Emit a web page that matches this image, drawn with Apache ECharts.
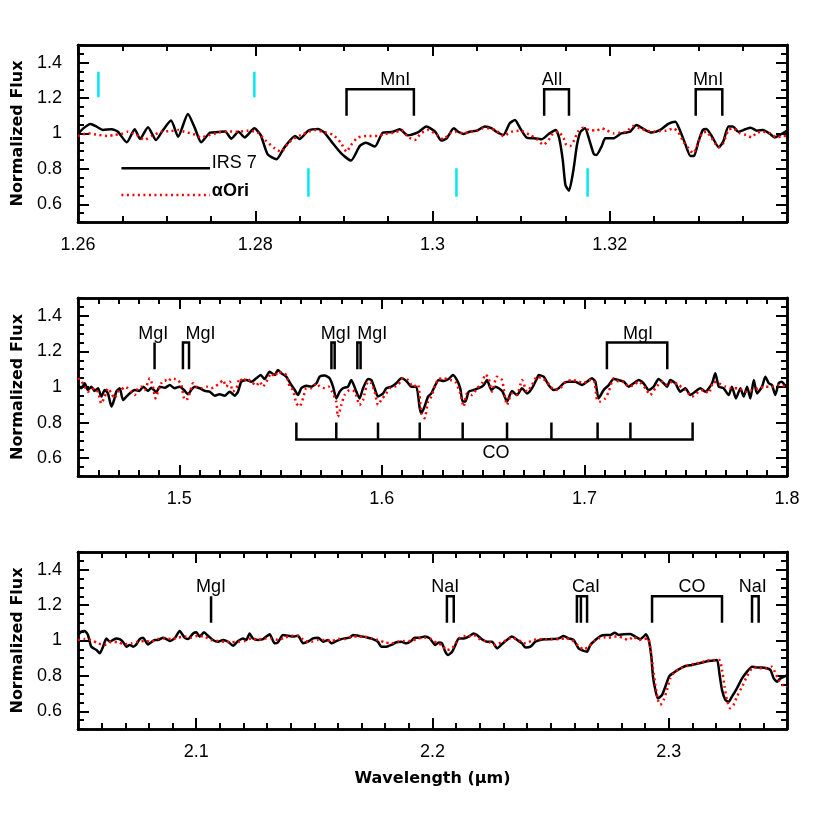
<!DOCTYPE html>
<html><head><meta charset="utf-8">
<script src="https://cdn.jsdelivr.net/npm/echarts@6/dist/echarts.min.js"></script>
<style>html,body{margin:0;padding:0;background:#fff}#c{width:830px;height:830px}</style>
</head><body><div id="c"></div>
<script>
// ---------- DATA ----------
// Panel 1 (J band)
const irsJ = [[1.2600,0.997],[1.2606,1.029],[1.2614,1.054],[1.2621,1.039],[1.2628,1.020],[1.2638,1.024],[1.2645,1.010],[1.2655,0.950],[1.2664,1.024],[1.2670,0.969],[1.2679,1.035],[1.2688,0.963],[1.2696,1.020],[1.2705,1.073],[1.2713,0.982],[1.2724,1.110],[1.2732,1.029],[1.2739,0.950],[1.2749,1.005],[1.2758,1.008],[1.2766,1.012],[1.2773,0.971],[1.2781,1.010],[1.2788,0.978],[1.2799,1.029],[1.2806,0.992],[1.2814,0.882],[1.2824,0.854],[1.2833,0.922],[1.2845,0.986],[1.2850,0.969],[1.2860,1.016],[1.2871,1.025],[1.2878,1.005],[1.2886,0.954],[1.2897,0.888],[1.2908,0.847],[1.2918,0.930],[1.2925,0.948],[1.2935,0.926],[1.2944,1.005],[1.2954,1.008],[1.2963,1.024],[1.2972,0.990],[1.2984,1.008],[1.2993,1.039],[1.3003,1.010],[1.3010,0.960],[1.3016,0.973],[1.3024,1.029],[1.3029,1.010],[1.3035,0.997],[1.3042,1.010],[1.3050,1.016],[1.3059,1.039],[1.3067,1.029],[1.3072,1.010],[1.3080,0.992],[1.3087,1.057],[1.3093,1.076],[1.3099,1.029],[1.3106,0.978],[1.3114,0.973],[1.3123,0.967],[1.3131,0.997],[1.3139,1.020],[1.3143,0.973],[1.3147,0.850],[1.3150,0.709],[1.3154,0.677],[1.3159,0.794],[1.3163,0.935],[1.3167,1.010],[1.3172,1.029],[1.3177,0.963],[1.3182,0.884],[1.3185,0.879],[1.3191,0.929],[1.3195,0.973],[1.3204,0.973],[1.3213,1.001],[1.3223,1.010],[1.3230,1.048],[1.3240,1.020],[1.3247,1.005],[1.3257,1.020],[1.3266,1.054],[1.3274,1.067],[1.3279,1.020],[1.3285,0.944],[1.3291,0.873],[1.3295,0.873],[1.3300,0.954],[1.3305,1.020],[1.3309,1.025],[1.3315,0.986],[1.3323,0.922],[1.3328,0.954],[1.3334,1.039],[1.3339,1.039],[1.3345,1.010],[1.3353,1.024],[1.3359,1.033],[1.3366,1.016],[1.3373,1.020],[1.3381,0.997],[1.3386,0.978],[1.3392,0.992],[1.3398,1.010],[1.3400,1.016]];
const oriJ = [[1.2600,0.986],[1.2611,1.001],[1.2623,0.992],[1.2634,0.986],[1.2641,0.992],[1.2649,0.997],[1.2656,1.010],[1.2666,0.992],[1.2675,0.963],[1.2683,0.986],[1.2694,1.010],[1.2705,1.014],[1.2713,1.020],[1.2720,1.010],[1.2730,0.997],[1.2739,0.978],[1.2749,0.992],[1.2758,1.005],[1.2769,1.012],[1.2781,1.010],[1.2792,1.016],[1.2803,1.005],[1.2811,0.963],[1.2822,0.916],[1.2829,0.897],[1.2837,0.944],[1.2844,0.973],[1.2852,0.992],[1.2860,1.010],[1.2867,1.020],[1.2876,1.010],[1.2888,0.992],[1.2897,0.944],[1.2903,0.897],[1.2908,0.935],[1.2916,0.978],[1.2927,0.986],[1.2938,0.986],[1.2946,0.997],[1.2957,1.005],[1.2965,1.020],[1.2972,0.982],[1.2980,0.963],[1.2987,1.001],[1.2995,1.020],[1.3005,0.992],[1.3012,0.967],[1.3020,1.001],[1.3027,1.010],[1.3035,1.001],[1.3042,1.010],[1.3050,1.016],[1.3057,1.029],[1.3065,1.029],[1.3072,1.016],[1.3080,0.986],[1.3089,1.010],[1.3099,1.016],[1.3110,0.992],[1.3118,0.967],[1.3125,0.935],[1.3131,0.963],[1.3136,1.001],[1.3142,1.010],[1.3148,0.973],[1.3151,0.935],[1.3155,0.929],[1.3160,0.963],[1.3164,1.010],[1.3170,1.033],[1.3177,1.020],[1.3185,1.016],[1.3191,1.029],[1.3196,1.020],[1.3204,1.001],[1.3211,1.005],[1.3219,1.010],[1.3226,1.042],[1.3234,1.029],[1.3242,1.016],[1.3249,1.010],[1.3257,1.014],[1.3264,1.016],[1.3272,1.029],[1.3277,1.010],[1.3283,0.954],[1.3289,0.916],[1.3294,0.888],[1.3298,0.922],[1.3304,1.001],[1.3309,1.010],[1.3315,0.973],[1.3323,0.922],[1.3328,0.944],[1.3334,1.020],[1.3339,1.029],[1.3347,1.001],[1.3354,0.992],[1.3360,0.978],[1.3366,1.005],[1.3373,1.010],[1.3381,1.001],[1.3388,0.978],[1.3396,0.986],[1.3400,0.986]];

// Panel 2 (H band)
const irsH = [[1.4500,1.011],[1.4516,0.993],[1.4533,1.021],[1.4549,0.983],[1.4566,1.002],[1.4582,0.978],[1.4599,0.993],[1.4615,0.946],[1.4632,0.983],[1.4648,0.964],[1.4665,0.890],[1.4678,0.927],[1.4689,0.974],[1.4706,0.993],[1.4722,0.927],[1.4739,0.946],[1.4755,0.964],[1.4780,0.983],[1.4804,0.978],[1.4821,1.002],[1.4846,0.978],[1.4862,0.996],[1.4887,0.970],[1.4903,1.002],[1.4928,0.996],[1.4953,1.011],[1.4977,0.993],[1.5002,1.002],[1.5023,0.983],[1.5043,0.959],[1.5059,0.983],[1.5076,1.002],[1.5101,0.993],[1.5125,0.978],[1.5150,0.974],[1.5175,0.951],[1.5199,0.959],[1.5224,0.951],[1.5249,0.974],[1.5273,0.951],[1.5290,0.974],[1.5306,1.030],[1.5331,1.039],[1.5356,1.030],[1.5380,1.049],[1.5402,1.067],[1.5421,1.045],[1.5446,1.086],[1.5471,1.067],[1.5487,1.096],[1.5504,1.077],[1.5528,1.058],[1.5553,1.011],[1.5570,0.983],[1.5586,0.955],[1.5602,0.993],[1.5627,1.007],[1.5652,1.002],[1.5677,1.021],[1.5693,1.058],[1.5718,1.064],[1.5742,1.049],[1.5759,1.002],[1.5775,0.936],[1.5792,0.974],[1.5808,0.993],[1.5833,1.002],[1.5849,1.039],[1.5874,0.974],[1.5890,0.936],[1.5907,0.993],[1.5932,1.045],[1.5948,1.039],[1.5964,0.993],[1.5981,0.946],[1.6006,0.964],[1.6022,0.993],[1.6047,1.002],[1.6071,1.021],[1.6096,1.049],[1.6121,1.034],[1.6146,1.002],[1.6170,1.002],[1.6187,0.880],[1.6195,0.852],[1.6211,0.890],[1.6228,0.946],[1.6244,0.964],[1.6264,1.011],[1.6280,1.039],[1.6305,1.034],[1.6330,1.045],[1.6350,1.067],[1.6371,1.039],[1.6387,0.993],[1.6399,0.918],[1.6412,0.918],[1.6429,0.974],[1.6453,0.983],[1.6478,0.993],[1.6503,1.011],[1.6519,1.039],[1.6541,0.983],[1.6560,1.002],[1.6577,0.993],[1.6596,0.974],[1.6618,0.918],[1.6642,0.978],[1.6667,0.955],[1.6692,0.993],[1.6717,0.964],[1.6741,0.993],[1.6766,1.049],[1.6774,1.067],[1.6799,1.058],[1.6823,1.011],[1.6848,0.983],[1.6873,0.993],[1.6897,1.021],[1.6922,1.030],[1.6955,1.030],[1.6988,1.011],[1.7013,1.030],[1.7037,1.049],[1.7054,1.030],[1.7070,0.936],[1.7095,0.983],[1.7120,1.011],[1.7144,1.045],[1.7169,1.039],[1.7194,1.030],[1.7218,1.002],[1.7243,1.021],[1.7268,1.039],[1.7292,1.021],[1.7317,0.983],[1.7342,1.002],[1.7366,1.045],[1.7391,1.021],[1.7408,1.002],[1.7424,1.039],[1.7449,1.021],[1.7473,0.974],[1.7498,0.993],[1.7523,0.955],[1.7547,0.974],[1.7572,0.993],[1.7597,0.974],[1.7630,1.021],[1.7646,1.077],[1.7663,1.002],[1.7687,0.993],[1.7712,0.955],[1.7728,1.002],[1.7748,0.936],[1.7770,0.993],[1.7786,0.946],[1.7803,1.002],[1.7819,0.936],[1.7836,1.039],[1.7852,0.964],[1.7877,1.002],[1.7893,1.058],[1.7910,1.021],[1.7926,1.011],[1.7942,0.955],[1.7959,1.021],[1.7975,1.030],[1.7992,1.007],[1.8000,1.011]];
const oriH = [[1.4500,1.049],[1.4516,1.034],[1.4533,1.002],[1.4549,0.974],[1.4566,0.983],[1.4582,0.993],[1.4599,0.970],[1.4615,0.908],[1.4632,0.946],[1.4648,0.993],[1.4665,0.964],[1.4681,0.936],[1.4697,0.974],[1.4714,0.983],[1.4730,1.002],[1.4747,0.993],[1.4763,0.974],[1.4780,0.955],[1.4796,0.993],[1.4813,1.002],[1.4829,0.983],[1.4854,1.049],[1.4870,1.002],[1.4882,0.936],[1.4895,0.974],[1.4911,1.021],[1.4928,1.039],[1.4944,1.030],[1.4961,1.049],[1.4977,1.045],[1.4994,1.039],[1.5010,1.011],[1.5027,0.927],[1.5043,0.936],[1.5068,1.021],[1.5084,1.002],[1.5109,0.993],[1.5134,1.002],[1.5158,0.993],[1.5175,1.002],[1.5199,1.021],[1.5216,1.039],[1.5232,1.002],[1.5249,1.030],[1.5265,0.974],[1.5282,0.993],[1.5298,1.049],[1.5315,1.030],[1.5331,1.049],[1.5356,1.030],[1.5380,1.007],[1.5397,1.030],[1.5413,1.002],[1.5430,1.030],[1.5454,1.077],[1.5471,1.058],[1.5487,1.086],[1.5512,1.077],[1.5528,1.067],[1.5545,1.002],[1.5561,0.983],[1.5578,0.908],[1.5594,0.890],[1.5611,0.936],[1.5627,0.993],[1.5652,0.993],[1.5677,1.021],[1.5693,1.002],[1.5718,0.993],[1.5737,1.002],[1.5754,0.974],[1.5775,0.918],[1.5783,0.833],[1.5800,0.899],[1.5816,0.955],[1.5841,0.983],[1.5866,0.974],[1.5890,0.899],[1.5907,0.927],[1.5932,1.030],[1.5948,1.021],[1.5964,0.974],[1.5981,0.899],[1.5997,0.927],[1.6022,0.964],[1.6039,0.993],[1.6063,1.002],[1.6080,1.011],[1.6104,1.049],[1.6129,1.039],[1.6154,1.002],[1.6178,1.015],[1.6195,0.852],[1.6211,0.824],[1.6228,0.918],[1.6244,0.946],[1.6264,1.011],[1.6280,1.045],[1.6305,1.049],[1.6338,1.039],[1.6363,1.030],[1.6387,0.964],[1.6404,0.890],[1.6420,0.964],[1.6445,0.955],[1.6470,0.993],[1.6494,1.021],[1.6511,1.071],[1.6527,1.049],[1.6544,0.974],[1.6568,1.058],[1.6593,1.039],[1.6618,0.899],[1.6642,0.964],[1.6667,0.955],[1.6692,1.039],[1.6717,0.974],[1.6741,1.011],[1.6766,1.058],[1.6791,1.049],[1.6815,1.030],[1.6832,1.002],[1.6856,0.983],[1.6881,0.993],[1.6906,1.030],[1.6939,1.039],[1.6972,1.030],[1.6996,1.021],[1.7021,1.039],[1.7046,1.039],[1.7062,0.927],[1.7078,0.918],[1.7103,0.936],[1.7120,0.974],[1.7144,1.049],[1.7169,1.030],[1.7194,1.030],[1.7218,1.002],[1.7243,1.011],[1.7268,1.030],[1.7301,0.993],[1.7325,0.955],[1.7350,0.993],[1.7383,1.030],[1.7408,1.011],[1.7432,1.030],[1.7465,1.011],[1.7498,0.983],[1.7531,0.946],[1.7564,0.974],[1.7589,0.983],[1.7613,0.964],[1.7638,1.030],[1.7663,1.021],[1.7696,1.002],[1.7728,0.993],[1.7761,0.993],[1.7794,0.974],[1.7827,0.983],[1.7860,0.993],[1.7893,1.002],[1.7926,1.002],[1.7959,1.011],[1.8000,1.002]];

// Panel 3 (K band)
const irsK = [[2.0500,1.031],[2.0514,1.050],[2.0528,1.054],[2.0542,1.031],[2.0556,0.965],[2.0578,0.946],[2.0592,0.928],[2.0606,0.965],[2.0620,1.012],[2.0634,0.993],[2.0648,1.003],[2.0662,1.012],[2.0676,1.008],[2.0690,0.993],[2.0705,0.965],[2.0719,0.975],[2.0733,0.965],[2.0747,0.978],[2.0761,1.008],[2.0775,1.016],[2.0796,0.978],[2.0810,0.990],[2.0824,1.003],[2.0838,1.003],[2.0860,1.016],[2.0874,1.008],[2.0888,0.997],[2.0909,1.012],[2.0930,1.054],[2.0951,1.016],[2.0965,1.008],[2.0987,1.040],[2.1001,1.046],[2.1015,1.022],[2.1033,1.046],[2.1050,1.027],[2.1071,1.003],[2.1092,0.993],[2.1114,1.003],[2.1135,0.993],[2.1156,0.971],[2.1177,0.997],[2.1198,1.012],[2.1212,1.003],[2.1226,1.040],[2.1240,1.012],[2.1262,1.003],[2.1283,1.008],[2.1297,1.022],[2.1311,1.035],[2.1332,0.984],[2.1346,0.990],[2.1367,1.031],[2.1389,1.027],[2.1410,1.022],[2.1431,1.027],[2.1452,0.984],[2.1473,0.993],[2.1494,1.012],[2.1516,1.016],[2.1537,0.993],[2.1558,1.003],[2.1572,0.984],[2.1593,0.997],[2.1614,1.008],[2.1628,1.012],[2.1649,1.016],[2.1664,1.031],[2.1685,1.027],[2.1706,1.022],[2.1727,1.016],[2.1748,1.008],[2.1769,0.993],[2.1783,0.965],[2.1805,0.965],[2.1826,0.975],[2.1847,0.990],[2.1868,0.993],[2.1889,0.984],[2.1910,0.997],[2.1924,1.016],[2.1946,1.016],[2.1967,1.022],[2.1988,1.012],[2.2012,0.975],[2.2026,0.988],[2.2040,0.984],[2.2054,0.937],[2.2066,0.918],[2.2083,0.937],[2.2097,0.975],[2.2111,1.012],[2.2132,1.012],[2.2153,1.022],[2.2174,1.040],[2.2188,1.031],[2.2209,1.007],[2.2231,0.993],[2.2252,0.993],[2.2273,0.956],[2.2294,0.980],[2.2315,1.003],[2.2336,1.022],[2.2358,1.003],[2.2379,0.984],[2.2393,0.961],[2.2414,0.965],[2.2435,0.993],[2.2456,1.003],[2.2477,1.007],[2.2506,1.008],[2.2534,1.012],[2.2555,1.025],[2.2576,1.012],[2.2597,1.003],[2.2618,0.956],[2.2640,0.941],[2.2654,0.937],[2.2668,0.975],[2.2689,1.003],[2.2710,1.025],[2.2731,1.031],[2.2752,1.031],[2.2771,1.044],[2.2788,1.031],[2.2809,1.035],[2.2837,1.037],[2.2858,1.022],[2.2879,1.007],[2.2893,1.022],[2.2903,1.035],[2.2915,1.003],[2.2926,0.909],[2.2933,0.796],[2.2943,0.720],[2.2954,0.673],[2.2971,0.692],[2.2985,0.739],[2.3002,0.799],[2.3020,0.818],[2.3042,0.837],[2.3070,0.856],[2.3098,0.862],[2.3126,0.871],[2.3154,0.880],[2.3183,0.886],[2.3204,0.890],[2.3214,0.814],[2.3225,0.720],[2.3239,0.664],[2.3253,0.654],[2.3267,0.683],[2.3288,0.730],[2.3310,0.786],[2.3331,0.824],[2.3352,0.852],[2.3373,0.848],[2.3394,0.848],[2.3415,0.843],[2.3430,0.833],[2.3444,0.786],[2.3458,0.767],[2.3472,0.786],[2.3493,0.799],[2.3500,0.805]];
const oriK = [[2.0500,1.003],[2.0528,1.008],[2.0556,1.003],[2.0585,0.984],[2.0613,0.975],[2.0641,0.993],[2.0669,0.990],[2.0697,0.978],[2.0726,0.984],[2.0754,0.993],[2.0782,0.997],[2.0810,0.993],[2.0838,1.008],[2.0867,1.012],[2.0895,1.008],[2.0923,1.016],[2.0951,1.022],[2.0980,1.016],[2.1008,1.027],[2.1036,1.022],[2.1064,1.003],[2.1092,0.997],[2.1121,0.993],[2.1149,0.990],[2.1177,0.993],[2.1205,0.997],[2.1233,1.012],[2.1262,1.003],[2.1290,1.012],[2.1318,1.012],[2.1346,1.003],[2.1374,1.016],[2.1403,1.027],[2.1431,1.027],[2.1459,0.997],[2.1487,0.993],[2.1516,1.003],[2.1544,1.003],[2.1572,0.997],[2.1600,1.008],[2.1628,1.008],[2.1657,1.022],[2.1685,1.022],[2.1713,1.022],[2.1741,1.012],[2.1769,1.003],[2.1798,0.990],[2.1826,0.984],[2.1854,0.993],[2.1882,0.997],[2.1910,0.997],[2.1939,1.012],[2.1967,1.016],[2.1995,1.008],[2.2019,0.984],[2.2040,0.975],[2.2061,0.946],[2.2083,0.956],[2.2097,0.984],[2.2111,1.012],[2.2132,1.025],[2.2153,1.022],[2.2174,1.031],[2.2195,1.012],[2.2217,0.999],[2.2238,0.993],[2.2259,0.975],[2.2280,0.984],[2.2301,0.993],[2.2322,1.012],[2.2343,1.012],[2.2365,1.003],[2.2386,0.984],[2.2407,0.990],[2.2428,1.003],[2.2449,1.007],[2.2477,1.007],[2.2506,1.007],[2.2534,1.007],[2.2562,1.012],[2.2590,1.003],[2.2618,0.969],[2.2640,0.950],[2.2661,0.965],[2.2682,0.993],[2.2703,1.012],[2.2724,1.018],[2.2745,1.016],[2.2767,1.022],[2.2788,1.022],[2.2809,1.012],[2.2830,1.003],[2.2851,1.022],[2.2872,1.003],[2.2893,1.007],[2.2912,1.012],[2.2922,0.956],[2.2932,0.852],[2.2943,0.749],[2.2954,0.664],[2.2964,0.636],[2.2978,0.664],[2.2992,0.720],[2.3006,0.786],[2.3025,0.824],[2.3049,0.843],[2.3077,0.856],[2.3105,0.867],[2.3133,0.875],[2.3161,0.886],[2.3190,0.890],[2.3214,0.890],[2.3225,0.833],[2.3236,0.739],[2.3246,0.664],[2.3260,0.617],[2.3274,0.636],[2.3288,0.683],[2.3310,0.739],[2.3331,0.799],[2.3352,0.843],[2.3373,0.848],[2.3394,0.843],[2.3415,0.843],[2.3436,0.852],[2.3450,0.818],[2.3465,0.777],[2.3479,0.749],[2.3493,0.749],[2.3500,0.739]];

// Axes
const xMin = [1.26, 1.45, 2.05];
const xMax = [1.34, 1.80, 2.35];
const xTickLabels1 = [1.26, 1.28, 1.30, 1.32];
const xTickLabels2 = [1.5, 1.6, 1.7, 1.8];
const xTickLabels3 = [2.1, 2.2, 2.3];
const xMinorStep = [0.005, 0.01, 0.01];
const yTickLabels = [0.6, 0.8, 1, 1.2, 1.4];

// Line identifications (wavelengths of marker lines)
const markersJ = [[1.2903, 1.2979], [1.3126, 1.3154], [1.3297, 1.3327]];
const labelTextJ = ['MnI', 'AlI', 'MnI'];
const labelWlJ = [1.2958, 1.3135, 1.3311];
const cyanWl = [1.2623, 1.2799, 1.2860, 1.3027, 1.3175];
const cyanLo = [1.205, 1.205, 0.643, 0.643, 0.643];
const cyanHi = [1.349, 1.349, 0.803, 0.803, 0.803];

const markersH = [[1.4878], [1.5018, 1.5048], [1.5751, 1.5767], [1.5879, 1.5895], [1.7111, 1.7409]];
const labelTextH = ['MgI', 'MgI', 'MgI', 'MgI', 'MgI'];
const labelWlH = [1.4871, 1.5105, 1.5773, 1.5953, 1.7265];
const coBandheadsH = [1.5578, 1.5775, 1.5981, 1.6187, 1.6399, 1.6618, 1.6837, 1.7065, 1.7227, 1.7534];
const coLabelH = [1.6564, 0.63];

const markersK = [[2.1063], [2.2061, 2.2090], [2.2611, 2.2628, 2.2654], [2.2929, 2.3225], [2.3352, 2.3380]];
const labelTextK = ['MgI', 'NaI', 'CaI', 'CO', 'NaI'];
const labelWlK = [2.1063, 2.2054, 2.2650, 2.3098, 2.3355];

const markLo = 1.10, markHi = 1.25, labelY = 1.30;
const coLo = 0.705, coHi = 0.80;

// Legend (in panel 1 data coordinates)
const legendLineWl = [1.2649, 1.2749];
const legendTextWl = 1.2751;
const legendY = [0.803, 0.653];
const legendTextY = [0.832, 0.677];
const legendNames = ['IRS 7', 'αOri'];

// ---------- CHART ----------
const chart = echarts.init(document.getElementById('c'), null, {renderer: 'canvas'});
const grids = [
  {left: 78, top: 45, width: 709, height: 177},
  {left: 78, top: 298, width: 709, height: 178},
  {left: 78, top: 552, width: 709, height: 177}
];
const xTickSets = [xTickLabels1, xTickLabels2, xTickLabels3];
const FONT = 'Liberation Sans';
const frame = {show: true, lineStyle: {color: '#000', width: 2.5}};
const xAxes = [], yAxes = [];
for (let i = 0; i < 3; i++) {
  const base = {gridIndex: i, type: 'value', min: xMin[i], max: xMax[i], splitLine: {show: false}, axisLine: frame};
  xAxes.push(Object.assign({}, base, {
    position: 'bottom',
    axisTick: {inside: true, length: 11, lineStyle: {color: '#000', width: 2}, customValues: xTickSets[i]},
    axisLabel: {customValues: xTickSets[i], fontSize: 18, color: '#000', fontFamily: FONT, margin: 14, showMaxLabel: true, showMinLabel: true},
    name: i === 2 ? 'Wavelength (\u03bcm)' : '',
    nameLocation: 'middle', nameGap: 42,
    nameTextStyle: {fontSize: 16, fontWeight: 'bold', fontFamily: 'DejaVu Sans', color: '#000'}
  }));
  xAxes.push(Object.assign({}, base, {position: 'bottom', interval: xMinorStep[i],
    axisTick: {inside: true, length: 6, lineStyle: {color: '#000', width: 2}}, axisLabel: {show: false}}));
  xAxes.push(Object.assign({}, base, {position: 'top',
    axisTick: {inside: true, length: 11, lineStyle: {color: '#000', width: 2}, customValues: xTickSets[i]},
    axisLabel: {show: false}}));
  xAxes.push(Object.assign({}, base, {position: 'top', interval: xMinorStep[i],
    axisTick: {inside: true, length: 6, lineStyle: {color: '#000', width: 2}}, axisLabel: {show: false}}));

  const ybase = {gridIndex: i, type: 'value', min: 0.5, max: 1.5, splitLine: {show: false}, axisLine: frame};
  yAxes.push(Object.assign({}, ybase, {position: 'left',
    axisTick: {inside: true, length: 11, lineStyle: {color: '#000', width: 2}, customValues: yTickLabels},
    axisLabel: {customValues: yTickLabels, fontSize: 18, color: '#000', fontFamily: FONT, margin: 16},
    name: 'Normalized Flux', nameLocation: 'middle', nameGap: 49, nameRotate: 90,
    nameTextStyle: {fontSize: 16, fontWeight: 'bold', fontFamily: 'DejaVu Sans', color: '#000'}}));
  yAxes.push(Object.assign({}, ybase, {position: 'left', interval: 0.05,
    axisTick: {inside: true, length: 6, lineStyle: {color: '#000', width: 2}}, axisLabel: {show: false}}));
  yAxes.push(Object.assign({}, ybase, {position: 'right',
    axisTick: {inside: true, length: 11, lineStyle: {color: '#000', width: 2}, customValues: yTickLabels},
    axisLabel: {show: false}}));
  yAxes.push(Object.assign({}, ybase, {position: 'right', interval: 0.05,
    axisTick: {inside: true, length: 6, lineStyle: {color: '#000', width: 2}}, axisLabel: {show: false}}));
}

const series = [];
function line(p, data, color, width, type, z, smooth) {
  series.push({type: 'line', xAxisIndex: 4 * p, yAxisIndex: 4 * p, data: data, symbol: 'none',
    smooth: smooth || false, silent: true, z: z,
    lineStyle: {color: color, width: width, type: type || 'solid', cap: 'butt', join: 'miter'}});
}
function text(p, items, position, bold) {
  series.push({type: 'scatter', xAxisIndex: 4 * p, yAxisIndex: 4 * p, symbolSize: 0, silent: true, z: 10,
    itemStyle: {color: '#000', opacity: 1},
    data: items.map(it => ({name: it[0], value: [it[1], it[2]]})),
    label: {show: true, position: position || 'inside', distance: 0, formatter: '{b}', color: '#000', opacity: 1,
      textBorderWidth: 0,
      fontSize: 18, fontFamily: FONT, fontWeight: bold ? 'bold' : 'normal'}});
}
function markers(p, list, lo, hi) {
  list.forEach(ws => {
    const a = ws[0], b = ws[ws.length - 1];
    if (ws.length === 1) line(p, [[a, lo], [a, hi]], '#000', 2.5, 'solid', 6);
    else line(p, [[a, lo], [a, hi], [b, hi], [b, lo]], '#000', 2.5, 'solid', 6);
    for (let k = 1; k < ws.length - 1; k++) line(p, [[ws[k], hi], [ws[k], lo]], '#000', 2.5, 'solid', 6);
  });
}

// spectra
line(0, irsJ, '#000', 2.5, 'solid', 3, 0.2);
line(0, oriJ, '#ff0000', 2.5, [2, 3.5], 4, 0.2);
line(1, irsH, '#000', 2.5, 'solid', 3, 0.2);
line(1, oriH, '#ff0000', 2.5, [2, 3.5], 4, 0.2);
line(2, irsK, '#000', 2.5, 'solid', 3, 0.2);
line(2, oriK, '#ff0000', 2.5, [2, 3.5], 4, 0.2);

// panel 1 annotations
markers(0, markersJ, markLo, markHi);
text(0, labelTextJ.map((t, k) => [t, labelWlJ[k], labelY]));
cyanWl.forEach((w, k) => line(0, [[w, cyanLo[k]], [w, cyanHi[k]]], '#00e8f0', 2.5, 'solid', 6));
line(0, [[legendLineWl[0], legendY[0]], [legendLineWl[1], legendY[0]]], '#000', 2.5, 'solid', 6);
line(0, [[legendLineWl[0], legendY[1]], [legendLineWl[1], legendY[1]]], '#ff0000', 2.5, [2, 3.5], 6);
text(0, [[legendNames[0], legendTextWl, legendTextY[0]]], 'right', false);
text(0, [[legendNames[1], legendTextWl, legendTextY[1]]], 'right', true);

// panel 2 annotations
markers(1, markersH, markLo, markHi);
text(1, labelTextH.map((t, k) => [t, labelWlH[k], labelY]));
{
  const a = coBandheadsH[0], b = coBandheadsH[coBandheadsH.length - 1];
  line(1, [[a, coHi], [a, coLo], [b, coLo], [b, coHi]], '#000', 2.5, 'solid', 6);
  for (let k = 1; k < coBandheadsH.length - 1; k++) line(1, [[coBandheadsH[k], coLo], [coBandheadsH[k], coHi]], '#000', 2.5, 'solid', 6);
  text(1, [['CO', coLabelH[0], coLabelH[1]]]);
}

// panel 3 annotations
markers(2, markersK, markLo, markHi);
text(2, labelTextK.map((t, k) => [t, labelWlK[k], labelY]));

chart.setOption({
  animation: false,
  backgroundColor: '#fff',
  grid: grids,
  xAxis: xAxes,
  yAxis: yAxes,
  series: series
});
</script>
</body></html>
